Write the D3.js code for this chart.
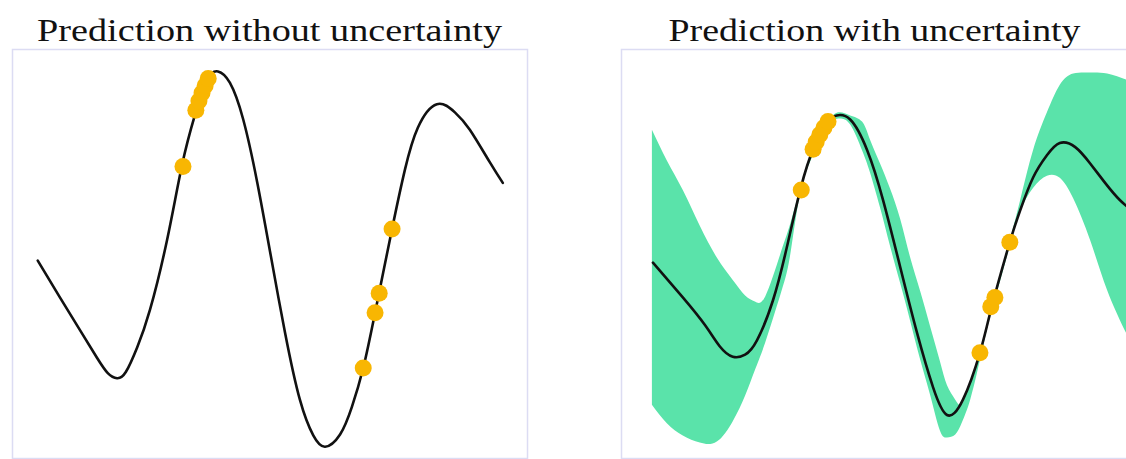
<!DOCTYPE html>
<html>
<head>
<meta charset="utf-8">
<script src="https://cdn.jsdelivr.net/npm/d3@7"></script>
<style>
  html, body { margin: 0; padding: 0; background: #ffffff; }
  svg { display: block; }
</style>
</head>
<body>
<script>
// ---- Panel titles ----
const titles = ["Prediction without uncertainty", "Prediction with uncertainty"];

// ---- Left panel: point prediction only ----
const meanX_left = [0.50, 0.93, 1.32, 1.65, 1.86, 2.04, 2.21, 2.43, 2.68, 3.01, 3.30, 3.55, 3.79, 4.00, 4.23, 4.49, 4.76, 5.01,
                    5.30, 5.59, 5.85, 6.08, 6.37, 6.60, 6.82, 7.05, 7.38, 7.63, 7.88, 8.25, 8.60, 8.89, 9.28, 9.53];
const meanY_left = [-0.05, -0.41, -0.73, -1.00, -1.15, -1.20, -1.14, -0.90, -0.53, 0.15, 0.88, 1.37, 1.72, 1.80, 1.69, 1.33, 0.72, 0.04,
                    -0.75, -1.41, -1.76, -1.87, -1.75, -1.48, -1.10, -0.56, 0.26, 0.84, 1.25, 1.48, 1.40, 1.23, 0.91, 0.71];
const obsX_left = [3.32, 3.57, 3.63, 3.69, 3.75, 3.81, 6.82, 7.05, 7.13, 7.38];
const obsY_left = [0.87, 1.42, 1.51, 1.59, 1.66, 1.73, -1.10, -0.56, -0.37, 0.26];

// ---- Right panel: mean prediction with an uncertainty band ----
const meanX_right = [0.62, 1.20, 1.63, 1.92, 2.17, 2.41, 2.64, 2.95, 3.22, 3.48, 3.75, 4.04, 4.19, 4.45, 4.78, 5.09,
                     5.42, 5.75, 6.06, 6.33, 6.64, 6.97, 7.20, 7.55, 7.75, 8.00, 8.27, 8.52, 8.82, 9.11, 9.40, 9.69, 10.0];
const meanY_right = [-0.07, -0.41, -0.68, -0.89, -0.99, -0.97, -0.83, -0.44, 0.08, 0.64, 1.06, 1.31, 1.37, 1.33, 1.03, 0.54,
                     -0.11, -0.76, -1.29, -1.56, -1.41, -0.95, -0.50, 0.13, 0.44, 0.76, 0.98, 1.10, 1.06, 0.90, 0.71, 0.54, 0.41];
const bandX = [0.60, 0.89, 1.20, 1.53, 1.86, 2.17, 2.41, 2.60, 2.80, 3.09, 3.28, 3.48, 3.77, 4.06, 4.25, 4.45,
               4.68, 4.83, 5.03, 5.22, 5.42, 5.61, 5.81, 6.00, 6.19, 6.33, 6.49, 6.62, 6.78, 6.97, 7.17, 7.36,
               7.55, 7.75, 8.00, 8.27, 8.52, 8.78, 9.11, 9.44, 9.81, 10.0];
const bandUpper = [1.23, 0.93, 0.64, 0.29, -0.02, -0.24, -0.39, -0.45, -0.40, 0.01, 0.30, 0.66, 1.08, 1.34, 1.40, 1.37,
                   1.31, 1.14, 0.90, 0.66, 0.36, -0.01, -0.35, -0.69, -1.03, -1.27, -1.41, -1.45, -1.23, -0.93, -0.57, -0.21,
                   0.15, 0.54, 1.03, 1.40, 1.67, 1.78, 1.79, 1.78, 1.72, 1.67];
const bandLower = [-1.46, -1.64, -1.76, -1.83, -1.82, -1.62, -1.37, -1.12, -0.85, -0.39, -0.01, 0.61, 1.03, 1.29, 1.34, 1.28,
                   1.03, 0.82, 0.47, 0.10, -0.27, -0.63, -1.02, -1.36, -1.71, -1.78, -1.75, -1.63, -1.41, -1.02, -0.59, -0.25,
                   0.10, 0.43, 0.66, 0.78, 0.76, 0.56, 0.15, -0.34, -0.76, -0.94];
const obsX_right = [3.50, 3.73, 3.79, 3.86, 3.94, 4.02, 6.97, 7.18, 7.26, 7.55];
const obsY_right = [0.64, 1.04, 1.11, 1.18, 1.25, 1.31, -0.95, -0.50, -0.41, 0.13];

// ---- Layout ----
const W = 1126, H = 459;
const panelW = 515, plotTop = 51, plotH = 409;
const panelLeft = [12, 621];
const titleWidth = [465, 412];

const COLORS = { line: "#111111", dot: "#f8b602", band: "#5ae3aa", frame: "#dcdcf3" };

const svg = d3.select("body").append("svg")
  .attr("width", W).attr("height", H)
  .style("font-family", "'Liberation Serif', 'DejaVu Serif', serif");

const zip = (xs, ys) => xs.map((x, i) => [x, ys[i]]);

const panels = [
  { mean: zip(meanX_left, meanY_left), obs: zip(obsX_left, obsY_left), band: null },
  { mean: zip(meanX_right, meanY_right), obs: zip(obsX_right, obsY_right),
    band: bandX.map((x, i) => ({ x, lo: bandLower[i], hi: bandUpper[i] })) }
];

panels.forEach((p, k) => {
  const x0 = panelLeft[k];
  const x = d3.scaleLinear().domain([0, 10]).range([x0, x0 + panelW]);
  const y = d3.scaleLinear().domain([-2, 2]).range([plotTop + plotH, plotTop]);

  const clipId = "clip" + k;
  svg.append("clipPath").attr("id", clipId)
    .append("rect").attr("x", x0).attr("y", plotTop).attr("width", panelW).attr("height", plotH);

  const g = svg.append("g");

  // frame
  g.append("rect")
    .attr("x", x0 + 0.5).attr("y", plotTop - 1.5)
    .attr("width", panelW).attr("height", plotH)
    .attr("fill", "none").attr("stroke", COLORS.frame).attr("stroke-width", 1.5);

  const inner = g.append("g").attr("clip-path", `url(#${clipId})`);

  // uncertainty band
  if (p.band) {
    inner.append("path")
      .datum(p.band)
      .attr("fill", COLORS.band)
      .attr("d", d3.area()
        .x(d => x(d.x)).y0(d => y(d.lo)).y1(d => y(d.hi))
        .curve(d3.curveNatural));
  }

  // mean prediction
  inner.append("path")
    .datum(p.mean)
    .attr("fill", "none")
    .attr("stroke", COLORS.line)
    .attr("stroke-width", 2.6)
    .attr("stroke-linejoin", "round")
    .attr("stroke-linecap", "round")
    .attr("d", d3.line().x(d => x(d[0])).y(d => y(d[1])).curve(d3.curveNatural));

  // observations
  inner.selectAll("circle.obs")
    .data(p.obs)
    .join("circle")
    .attr("class", "obs")
    .attr("cx", d => x(d[0])).attr("cy", d => y(d[1]))
    .attr("r", 8.5)
    .attr("fill", COLORS.dot);

  // title
  svg.append("text")
    .attr("x", x0 + panelW / 2 + (k === 1 ? -4 : 0))
    .attr("y", 41)
    .attr("text-anchor", "middle")
    .attr("font-size", 32)
    .attr("fill", "#111")
    .attr("textLength", titleWidth[k])
    .attr("lengthAdjust", "spacingAndGlyphs")
    .text(titles[k]);
});
</script>
</body>
</html>
